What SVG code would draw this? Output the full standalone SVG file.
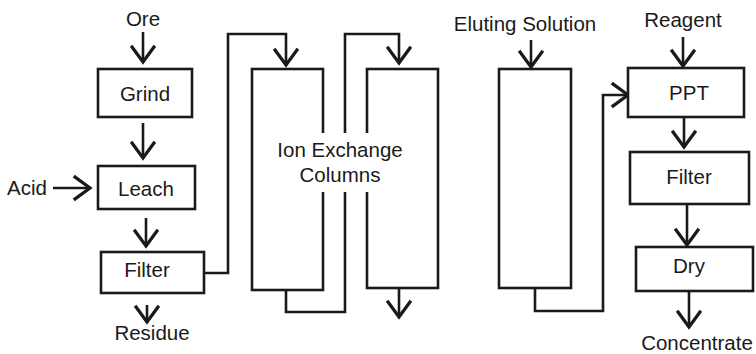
<svg xmlns="http://www.w3.org/2000/svg" width="756" height="354" viewBox="0 0 756 354">
<style>
.b{fill:#fff;stroke:#1a1a1a;stroke-width:2.6}
.c{fill:none;stroke:#1a1a1a;stroke-width:2.6;stroke-linejoin:miter}
.a{marker-end:url(#ah)}
text{font-family:"Liberation Sans",Arial,sans-serif;font-size:20.5px;fill:#1a1a1a;text-anchor:middle}
</style>
<defs>
<marker id="ah" markerUnits="userSpaceOnUse" markerWidth="30" markerHeight="30" viewBox="-16 -12 18 24" refX="0" refY="0" orient="auto" overflow="visible">
<path d="M-13,-9.5 L0,0 L-13,9.5" fill="none" stroke="#1a1a1a" stroke-width="2.6"/>
</marker>
</defs>
<rect width="756" height="354" fill="#fff"/>
<g id="connectors">
<path class="c a" d="M143,32 V62"/>
<path class="c a" d="M143,123 V158"/>
<path class="c a" d="M53,188 H90"/>
<path class="c a" d="M146,218 V246"/>
<path class="c a" d="M147,305 V322"/>
<path class="c a" d="M204,273 H228 V34 H286 V65"/>
<path class="c a" d="M286,290 V312 H345 V34 H399 V63"/>
<path class="c a" d="M399,288 V317"/>
<path class="c a" d="M531,40 V67"/>
<path class="c a" d="M535,288 V311 H603 V95 H628"/>
<path class="c a" d="M683,37 V66"/>
<path class="c a" d="M684,117 V147"/>
<path class="c a" d="M687,204 V245"/>
<path class="c a" d="M689,291 V327"/>
</g>
<g id="ore"><text x="143" y="26">Ore</text></g>
<g id="grind"><rect class="b" x="98" y="69" width="94" height="48"/><text x="145" y="101">Grind</text></g>
<g id="acid"><text x="27" y="195">Acid</text></g>
<g id="leach"><rect class="b" x="98" y="166" width="97" height="43"/><text x="146" y="196">Leach</text></g>
<g id="filter1"><rect class="b" x="101" y="252" width="103" height="41"/><text x="147" y="277">Filter</text></g>
<g id="residue"><text x="152" y="340">Residue</text></g>
<g id="column1"><rect class="b" x="252" y="69" width="71" height="221"/></g>
<g id="column2"><rect class="b" x="367" y="69" width="71" height="219"/></g>
<g id="ion-label"><rect x="273" y="133" width="136" height="59" fill="#fff"/><text x="340" y="157">Ion Exchange</text><text x="340" y="182">Columns</text></g>
<g id="eluting"><text x="525" y="31">Eluting Solution</text></g>
<g id="column3"><rect class="b" x="499" y="69" width="72" height="219"/></g>
<g id="reagent"><text x="683" y="27">Reagent</text></g>
<g id="ppt"><rect class="b" x="628" y="68" width="116" height="49"/><text x="689" y="100">PPT</text></g>
<g id="filter2"><rect class="b" x="630" y="152" width="119" height="52"/><text x="689" y="184">Filter</text></g>
<g id="dry"><rect class="b" x="636" y="247" width="117" height="44"/><text x="689" y="273">Dry</text></g>
<g id="concentrate"><text x="697" y="350">Concentrate</text></g>
</svg>
